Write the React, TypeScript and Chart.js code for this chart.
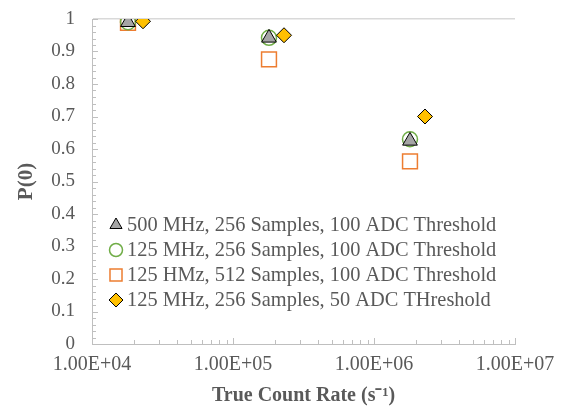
import React, { useEffect, useRef } from 'react';
import { Chart, registerables } from 'chart.js';
import { drawPoint } from 'chart.js/helpers';

Chart.register(...registerables);

// ---- data ----
const seriesLabels = [
  '500 MHz, 256 Samples, 100 ADC Threshold',
  '125 MHz, 256 Samples, 100 ADC Threshold',
  '125 HMz, 512 Samples, 100 ADC Threshold',
  '125 MHz, 256 Samples, 50 ADC THreshold',
];
const rate500_256_100 = [1.8e4, 1.8e5, 1.8e6];
const p0_500_256_100 = [0.99, 0.942, 0.625];
const rate125_256_100 = [1.8e4, 1.8e5, 1.8e6];
const p0_125_256_100 = [0.99, 0.942, 0.63];
const rate125_512_100 = [1.8e4, 1.8e5, 1.8e6];
const p0_125_512_100 = [0.988, 0.876, 0.562];
const rate125_256_50 = [2.3e4, 2.3e5, 2.3e6];
const p0_125_256_50 = [0.993, 0.95, 0.7];

const xTickValues = [1e4, 1e5, 1e6, 1e7];
const xTickLabels = ['1.00E+04', '1.00E+05', '1.00E+06', '1.00E+07'];
const xTitle = 'True Count Rate (s\u207B\u00B9)';
const yTitle = 'P(0)';

const TEXT = '#595959';
const AXIS = '#BFBFBF';
const FONT = '"Liberation Serif", "Times New Roman", serif';

const toPoints = (xs: number[], ys: number[]) => xs.map((x, i) => ({ x, y: ys[i] }));

const minorTicks = {
  id: 'minorTicks',
  afterDraw(chart: any) {
    const { ctx, chartArea } = chart;
    const xs = chart.scales.x;
    const ys = chart.scales.y;
    ctx.save();
    ctx.strokeStyle = AXIS;
    ctx.lineWidth = 1;
    ctx.beginPath();
    for (let i = 0; i <= 50; i++) {
      const py = Math.round(ys.getPixelForValue(i / 50)) + 0.5;
      const len = i % 5 === 0 ? 6 : 4;
      ctx.moveTo(chartArea.left, py);
      ctx.lineTo(chartArea.left + len, py);
    }
    for (let d = 4; d < 7; d++) {
      for (let m = 1; m <= 10; m++) {
        const v = m * Math.pow(10, d);
        const px = Math.round(xs.getPixelForValue(v)) + 0.5;
        const len = m === 1 || m === 10 ? 6 : 4;
        ctx.moveTo(px, chartArea.bottom);
        ctx.lineTo(px, chartArea.bottom - len);
      }
    }
    ctx.stroke();
    ctx.restore();
  },
};

const insideLegend = {
  id: 'insideLegend',
  afterDraw(chart: any) {
    const { ctx } = chart;
    const rows = [225, 250, 275, 300];
    const legendRadius = [7, 6.5, 8.5, 7];
    ctx.save();
    ctx.font = '20.4px ' + FONT;
    ctx.fillStyle = TEXT;
    ctx.textBaseline = 'middle';
    ctx.textAlign = 'left';
    chart.data.datasets.forEach((ds: any, i: number) => {
      const y = rows[i];
      ctx.save();
      ctx.fillStyle = ds.backgroundColor;
      ctx.strokeStyle = ds.borderColor;
      ctx.lineWidth = ds.borderWidth;
      drawPoint(ctx, { pointStyle: ds.pointStyle, radius: legendRadius[i], rotation: 0, borderWidth: ds.borderWidth }, 116, y);
      ctx.restore();
      ctx.fillText(ds.label, 127, y + 1);
    });
    ctx.restore();
  },
};

export default function App() {
  const ref = useRef<HTMLCanvasElement>(null);
  useEffect(() => {
    document.body.style.margin = '0';
    const chart = new Chart(ref.current as HTMLCanvasElement, {
      type: 'scatter',
      data: {
        datasets: [
          { label: seriesLabels[0], data: toPoints(rate500_256_100, p0_500_256_100), pointStyle: 'triangle', pointRadius: 8.5, backgroundColor: '#A5A5A5', borderColor: '#000000', borderWidth: 1, order: 1 },
          { label: seriesLabels[1], data: toPoints(rate125_256_100, p0_125_256_100), pointStyle: 'circle', pointRadius: 7.5, backgroundColor: 'rgba(0,0,0,0)', borderColor: '#70AD47', borderWidth: 1.5, order: 2 },
          { label: seriesLabels[2], data: toPoints(rate125_512_100, p0_125_512_100), pointStyle: 'rect', pointRadius: 10.5, backgroundColor: 'rgba(0,0,0,0)', borderColor: '#ED7D31', borderWidth: 1.5, order: 3 },
          { label: seriesLabels[3], data: toPoints(rate125_256_50, p0_125_256_50), pointStyle: 'rectRot', pointRadius: 7.5, backgroundColor: '#FFC000', borderColor: '#000000', borderWidth: 1, order: 0 },
        ],
      },
      options: {
        responsive: false,
        animation: false,
        devicePixelRatio: 1,
        layout: { padding: { top: 19, right: 50, left: 0, bottom: 0 } },
        plugins: { legend: { display: false }, tooltip: { enabled: false } },
        scales: {
          x: {
            type: 'logarithmic',
            min: 1e4,
            max: 1e7,
            afterBuildTicks: (scale: any) => {
              scale.ticks = xTickValues.map((v) => ({ value: v }));
            },
            afterFit: (scale: any) => {
              scale.height = 65;
              scale.paddingLeft = 0;
              scale.paddingRight = 0;
            },
            ticks: {
              color: TEXT,
              font: { family: FONT, size: 20 },
              padding: 9,
              maxRotation: 0,
              autoSkip: false,
              callback: (v: any) => {
                const i = xTickValues.indexOf(Number(v));
                return i >= 0 ? xTickLabels[i] : '';
              },
            },
            grid: { color: 'rgba(0,0,0,0)', drawTicks: false },
            border: { display: true, color: AXIS, width: 1 },
            title: { display: true, text: xTitle, color: TEXT, font: { family: FONT, size: 20, weight: 'bold' }, padding: { top: 0, bottom: 1 } },
          },
          y: {
            min: 0,
            max: 1,
            afterFit: (scale: any) => {
              scale.width = 92;
              scale.paddingTop = 0;
              scale.paddingBottom = 0;
            },
            ticks: {
              stepSize: 0.1,
              color: TEXT,
              font: { family: FONT, size: 19 },
              padding: 17,
              callback: (v: any) => String(Math.round(Number(v) * 10) / 10),
            },
            grid: {
              drawTicks: false,
              color: (c: any) => (c.tick && Math.abs(c.tick.value - 1) < 1e-9 ? '#D9D9D9' : 'rgba(0,0,0,0)'),
              lineWidth: 1.5,
            },
            border: { display: true, color: AXIS, width: 1 },
            title: { display: true, text: yTitle, color: TEXT, font: { family: FONT, size: 21, weight: 'bold' }, padding: { top: 14, bottom: 0 } },
          },
        },
      },
      plugins: [minorTicks, insideLegend],
    } as any);
    return () => chart.destroy();
  }, []);
  return (
    <div style={{ position: 'absolute', left: 0, top: 0, width: 565, height: 409 }}>
      <canvas ref={ref} width={565} height={409} />
    </div>
  );
}
